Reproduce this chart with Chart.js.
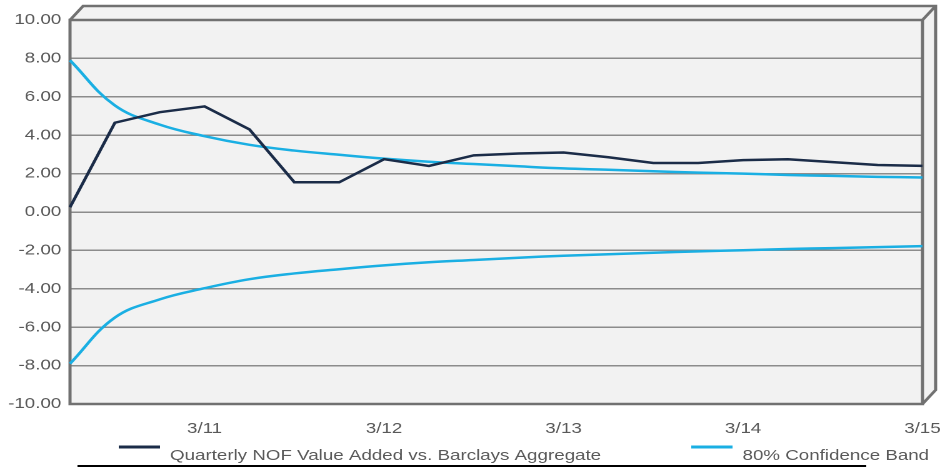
<!DOCTYPE html>
<html>
<head>
<meta charset="utf-8">
<script src="https://cdn.jsdelivr.net/npm/chart.js@4.4.0/dist/chart.umd.min.js"></script>
<style>
  html, body { margin: 0; padding: 0; background: #fff; overflow: hidden; }
  /* the source picture is stretched sideways, so the chart is too */
  #wrap { width: 754px; height: 467px; transform: scaleX(1.25); transform-origin: 0 0; }
</style>
</head>
<body>
<div id="wrap"><canvas id="chart"></canvas></div>
<script>
// Data (quarter ends)
const quarters = ['6/10', '9/10', '12/10', '3/11', '6/11', '9/11', '12/11', '3/12', '6/12', '9/12',
                  '12/12', '3/13', '6/13', '9/13', '12/13', '3/14', '6/14', '9/14', '12/14', '3/15'];
const valueAdded = [0.25, 4.65, 5.2, 5.5, 4.3, 1.55, 1.55, 2.75, 2.4, 2.95,
                    3.05, 3.1, 2.85, 2.55, 2.55, 2.7, 2.75, 2.6, 2.45, 2.4];
const bandUpper = [7.9, 5.55, 4.55, 3.95, 3.5, 3.2, 2.98, 2.78, 2.62, 2.5,
                   2.38, 2.27, 2.2, 2.12, 2.05, 2.0, 1.93, 1.88, 1.83, 1.8];
const bandLower = [-7.9, -5.5, -4.55, -3.97, -3.5, -3.2, -2.98, -2.78, -2.62, -2.5,
                   -2.38, -2.28, -2.2, -2.12, -2.05, -1.99, -1.93, -1.88, -1.83, -1.78];
const yMin = -10, yMax = 10, yStep = 2;

const navy = '#1b2c48';
const cyan = '#1aafe3';
const textGray = '#595959';
const FONT = "'Liberation Sans', Arial, sans-serif";

// depth of the 3D box
const DX = 10.5, DY = 14;

// Back wall, top and right side of the box
const frame3d = {
  id: 'frame3d',
  beforeDraw(chart) {
    const { ctx, chartArea: a } = chart;
    ctx.save();
    ctx.fillStyle = '#f2f2f2';
    ctx.fillRect(a.left, a.top, a.right - a.left, a.bottom - a.top);
    ctx.beginPath();
    ctx.moveTo(a.left, a.top);
    ctx.lineTo(a.left + DX, a.top - DY);
    ctx.lineTo(a.right + DX, a.top - DY);
    ctx.lineTo(a.right + DX, a.bottom - DY);
    ctx.lineTo(a.right, a.bottom);
    ctx.lineTo(a.right, a.top);
    ctx.closePath();
    ctx.fill();
    ctx.restore();
  },
  beforeDatasetsDraw(chart) {
    const { ctx, chartArea: a } = chart;
    ctx.save();
    ctx.strokeStyle = '#717171';
    ctx.lineWidth = 2.5;
    ctx.lineJoin = 'miter';
    ctx.strokeRect(a.left, a.top, a.right - a.left, a.bottom - a.top);
    ctx.beginPath();
    ctx.moveTo(a.left, a.top);
    ctx.lineTo(a.left + DX, a.top - DY);
    ctx.lineTo(a.right + DX, a.top - DY);
    ctx.lineTo(a.right + DX, a.bottom - DY);
    ctx.lineTo(a.right, a.bottom);
    ctx.moveTo(a.right + DX, a.top - DY);
    ctx.lineTo(a.right, a.top);
    ctx.stroke();
    ctx.restore();
  }
};

// Legend under the axis, one entry per label
const bottomLegend = {
  id: 'bottomLegend',
  afterDraw(chart) {
    const ctx = chart.ctx;
    const seen = [];
    chart.data.datasets.forEach(ds => {
      if (!seen.find(s => s.label === ds.label)) seen.push(ds);
    });
    const spots = [95, 553];
    ctx.save();
    ctx.font = '15px ' + FONT;
    ctx.textBaseline = 'alphabetic';
    seen.forEach((ds, i) => {
      const x = spots[i];
      ctx.strokeStyle = ds.borderColor;
      ctx.lineWidth = 3;
      ctx.beginPath();
      ctx.moveTo(x, 447);
      ctx.lineTo(x + 33, 447);
      ctx.stroke();
      ctx.fillStyle = textGray;
      ctx.fillText(ds.label, x + 41, 460);
    });
    // rule below the legend
    ctx.strokeStyle = '#000';
    ctx.lineWidth = 2;
    ctx.beginPath();
    ctx.moveTo(62, 466);
    ctx.lineTo(693, 466);
    ctx.stroke();
    ctx.restore();
  }
};

new Chart(document.getElementById('chart'), {
  type: 'line',
  data: {
    labels: quarters,
    datasets: [
      {
        label: 'Quarterly NOF Value Added vs. Barclays Aggregate',
        data: valueAdded,
        borderColor: navy,
        borderWidth: 2.5,
        pointRadius: 0,
        tension: 0
      },
      {
        label: '80% Confidence Band',
        data: bandUpper,
        borderColor: cyan,
        borderWidth: 2.5,
        pointRadius: 0,
        tension: 0.4
      },
      {
        label: '80% Confidence Band',
        data: bandLower,
        borderColor: cyan,
        borderWidth: 2.5,
        pointRadius: 0,
        tension: 0.4
      }
    ]
  },
  options: {
    responsive: true,
    maintainAspectRatio: false,
    animation: false,
    devicePixelRatio: 2,
    layout: { padding: { top: 20, right: 16, left: 0, bottom: 0 } },
    plugins: {
      legend: { display: false },
      tooltip: { enabled: false }
    },
    scales: {
      x: {
        grid: { display: false },
        border: { display: false },
        ticks: {
          autoSkip: false,
          maxRotation: 0,
          padding: 8,
          color: textGray,
          font: { family: FONT, size: 15 },
          callback: (v, i) => quarters[i].startsWith('3/') ? quarters[i] : ''
        },
        afterFit: s => { s.height = 63; s.paddingRight = 0; s.paddingLeft = 0; }
      },
      y: {
        min: yMin,
        max: yMax,
        grid: { color: '#8c8c8c', lineWidth: 1.5, drawTicks: false },
        border: { display: false },
        ticks: {
          stepSize: yStep,
          padding: 7,
          color: textGray,
          font: { family: FONT, size: 15 },
          callback: v => v.toFixed(2)
        },
        afterFit: s => { s.width = 56; }
      }
    }
  },
  plugins: [frame3d, bottomLegend]
});
</script>
</body>
</html>
